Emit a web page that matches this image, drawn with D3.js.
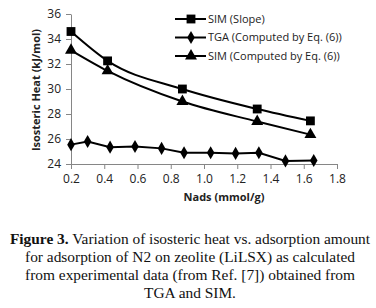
<!DOCTYPE html>
<html><head><meta charset="utf-8">
<script src="https://cdn.jsdelivr.net/npm/d3@7"></script>
<style>body{margin:0;background:#fff;} svg{display:block;}</style>
</head><body>
<svg id="c" width="376" height="308"></svg>
<script>
const xTicks = [0.2,0.4,0.6,0.8,1.0,1.2,1.4,1.6,1.8];
const yTicks = [24,26,28,30,32,34,36];
const simSlopeX = [0.2,0.42,0.87,1.32,1.64];
const simSlopeY = [34.6,32.25,30.0,28.4,27.45];
const tgaX = [0.2,0.3,0.435,0.585,0.745,0.88,1.04,1.19,1.33,1.49,1.66];
const tgaY = [25.55,25.8,25.35,25.4,25.25,24.9,24.9,24.85,24.9,24.25,24.28];
const simEqX = [0.2,0.42,0.87,1.32,1.64];
const simEqY = [33.1,31.45,29.0,27.4,26.35];
const legendLabels = ["SIM (Slope)","TGA (Computed by Eq. (6))","SIM (Computed by Eq. (6))"];
const xTitle = "Nads (mmol/g)";
const yTitle = "Isosteric Heat (kJ/mol)";
const captionBold = "Figure 3.";
const captionLines = [" Variation of isosteric heat vs. adsorption amount","for adsorption of N2 on zeolite (LiLSX) as calculated","from experimental data (from Ref. [7]) obtained from","TGA and SIM."];

const svg = d3.select("#c");
const x = d3.scaleLinear().domain([0.2,1.8]).range([71,337]);
const y = d3.scaleLinear().domain([24,36]).range([164,14]);
const axisColor = "#868686";
const font = "'Open Sans', sans-serif";

const gx = svg.append("g").attr("transform","translate(0,164)")
  .call(d3.axisBottom(x).tickValues(xTicks).tickFormat(d3.format(".1f")).tickSize(5).tickSizeOuter(0));
const gy = svg.append("g").attr("transform","translate(71,0)")
  .call(d3.axisLeft(y).tickValues(yTicks).tickFormat(d3.format("d")).tickSize(5).tickSizeOuter(0));
[gx,gy].forEach(g=>{
  g.select(".domain").attr("stroke",axisColor).attr("stroke-width",1);
  g.selectAll(".tick line").attr("stroke",axisColor);
  g.selectAll(".tick text").attr("fill","#222").style("font-family",font).style("font-size","12px");
});
gx.selectAll(".tick text").attr("dy","0.9em");
gy.selectAll(".tick text").attr("x",-10);

svg.append("text").attr("x",224).attr("y",201).attr("text-anchor","middle")
  .style("font-family",font).style("font-size","11px").style("font-weight","bold").attr("fill","#222").text(xTitle);
svg.append("text").attr("transform","translate(40,90) rotate(-90)").attr("text-anchor","middle")
  .style("font-family",font).style("font-size","11px").style("font-weight","bold").attr("fill","#222").text(yTitle);

function series(xs, ys, curve){
  const pts = xs.map((v,i)=>[x(v),y(ys[i])]);
  svg.append("path").attr("d", d3.line().curve(curve)(pts)).attr("fill","none").attr("stroke","#000").attr("stroke-width",2);
  return pts;
}
const sq = d3.symbol().type(d3.symbolSquare).size(78);
const tri = d3.symbol().type(d3.symbolTriangle).size(62);
const dia = d3.symbol().type(d3.symbolDiamond).size(50);

const p1 = series(simSlopeX, simSlopeY, d3.curveMonotoneX);
const p2 = series(tgaX, tgaY, d3.curveLinear);
const p3 = series(simEqX, simEqY, d3.curveMonotoneX);
function markers(pts, sym){
  svg.append("g").selectAll("path").data(pts).join("path")
    .attr("d", sym).attr("transform", d=>`translate(${d[0]},${d[1]})`).attr("fill","#000");
}
markers(p1, sq); markers(p2, dia); markers(p3, tri);

const syms = [sq, dia, tri];
const lg = svg.append("g");
legendLabels.forEach((t,i)=>{
  const yy = 19 + i*18.5;
  lg.append("line").attr("x1",175).attr("x2",206).attr("y1",yy).attr("y2",yy).attr("stroke","#000").attr("stroke-width",2);
  lg.append("path").attr("d",syms[i]).attr("transform",`translate(191,${yy})`).attr("fill","#000");
  lg.append("text").attr("x",208).attr("y",yy).attr("dy","0.35em")
    .style("font-family",font).style("font-size","11px").attr("fill","#222").text(t);
});

const cap = svg.append("g").style("font-family","'Liberation Serif', 'Times New Roman', serif").style("font-size","15.4px").attr("fill","#111");
const t0 = cap.append("text").attr("x",190).attr("y",244).attr("text-anchor","middle");
t0.append("tspan").style("font-weight","bold").text(captionBold);
t0.append("tspan").text(captionLines[0]);
captionLines.slice(1).forEach((l,i)=>{
  cap.append("text").attr("x",190).attr("y",262+i*18).attr("text-anchor","middle").text(l);
});
</script>
</body></html>
